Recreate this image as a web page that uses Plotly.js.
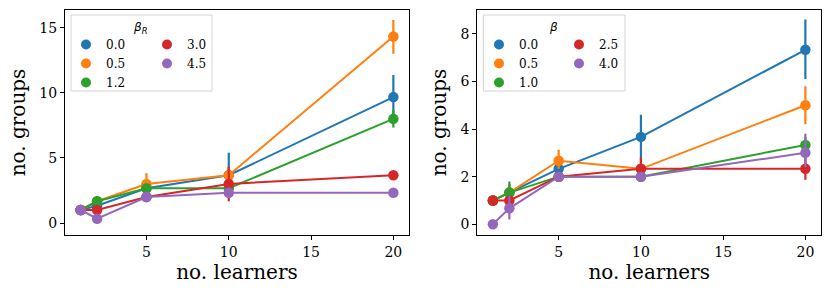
<!DOCTYPE html>
<html>
<head>
<meta charset="utf-8">
<script src="https://cdn.plot.ly/plotly-3.0.1.min.js"></script>
<style>html,body{margin:0;padding:0;background:#fff;}#chart{width:831px;height:295px;}</style>
</head>
<body>
<div id="chart"></div>
<script>
const learners = [1, 2, 5, 10, 20];
const colors = ['#1f77b4', '#ff7f0e', '#2ca02c', '#d62728', '#9467bd'];

// Left panel (beta_R)
const leftLabels = ['0.0', '0.5', '1.2', '3.0', '4.5'];
const leftMean = [
  [1, 1.33, 2.67, 3.67, 9.67],
  [1, 1.67, 3.0, 3.67, 14.33],
  [1, 1.67, 2.67, 2.67, 8.0],
  [1, 1.0, 2.0, 3.0, 3.67],
  [1, 0.33, 2.0, 2.33, 2.33]
];
const leftLo = [
  [1, 1.0, 2.33, 2.0, 8.0],
  [1, 1.33, 2.33, 3.0, 13.0],
  [1, 1.33, 2.33, 2.33, 7.33],
  [1, 0.67, 2.0, 1.67, 3.33],
  [1, 0.0, 2.0, 2.0, 2.0]
];
const leftHi = [
  [1, 1.67, 3.0, 5.4, 11.37],
  [1, 2.0, 3.83, 4.33, 15.6],
  [1, 2.0, 3.0, 3.0, 8.67],
  [1, 1.33, 2.0, 4.33, 4.0],
  [1, 0.67, 2.0, 2.67, 2.67]
];

// Right panel (beta)
const rightLabels = ['0.0', '0.5', '1.0', '2.5', '4.0'];
const rightMean = [
  [1, 1.33, 2.33, 3.67, 7.33],
  [1, 1.33, 2.67, 2.33, 5.0],
  [1, 1.33, 2.0, 2.0, 3.33],
  [1, 1.0, 2.0, 2.33, 2.33],
  [0, 0.67, 2.0, 2.0, 3.0]
];
const rightLo = [
  [1, 1.0, 2.0, 2.67, 6.1],
  [1, 1.0, 2.33, 2.0, 4.2],
  [1, 1.0, 2.0, 2.0, 3.0],
  [1, 1.0, 2.0, 2.0, 1.87],
  [0, 0.2, 2.0, 2.0, 2.4]
];
const rightHi = [
  [1, 1.67, 2.67, 4.6, 8.6],
  [1, 1.67, 3.13, 2.67, 5.8],
  [1, 1.8, 2.0, 2.0, 3.67],
  [1, 1.0, 2.0, 2.8, 2.8],
  [0, 1.2, 2.0, 2.0, 3.8]
];

const xTicks = [5, 10, 15, 20];
const leftYTicks = [0, 5, 10, 15];
const rightYTicks = [0, 2, 4, 6, 8];

const traces = [];
function addPanel(means, los, his, xa, ya) {
  means.forEach((m, i) => {
    traces.push({
      x: learners, y: m, xaxis: xa, yaxis: ya,
      mode: 'lines+markers', showlegend: false,
      line: {color: colors[i], width: 2},
      marker: {color: colors[i], size: 10.5},
      error_y: {
        type: 'data', symmetric: false,
        array: m.map((v, k) => his[i][k] - v),
        arrayminus: m.map((v, k) => v - los[i][k]),
        color: colors[i], thickness: 2.2, width: 0
      },
      hoverinfo: 'x+y'
    });
  });
}
addPanel(leftMean, leftLo, leftHi, 'x', 'y');
addPanel(rightMean, rightLo, rightHi, 'x2', 'y2');

// legend-only marker entries (two columns per panel)
function addLegend(labels, legendA, legendB) {
  labels.forEach((lab, i) => {
    traces.push({
      x: [null], y: [null], mode: 'markers', name: lab,
      marker: {color: colors[i], size: 10},
      legend: i < 3 ? legendA : legendB,
      showlegend: true, hoverinfo: 'skip'
    });
  });
}
addLegend(leftLabels, 'legend', 'legend2');
addLegend(rightLabels, 'legend3', 'legend4');

const W = 831, H = 295;
const px = v => v / W, py = v => 1 - v / H;
const serif = 'DejaVu Serif';
const legFont = {family: serif, size: 12, color: '#000'};
function legendAt(xp, yp) {
  return {x: px(xp), y: py(yp), xanchor: 'left', yanchor: 'top',
    bgcolor: 'rgba(0,0,0,0)', borderwidth: 0, font: legFont,
    tracegroupgap: 0, itemclick: false};
}
function axisX(domain, anchor) {
  return {domain: domain, anchor: anchor, range: [0.05, 20.95],
    tickvals: xTicks, ticktext: xTicks.map(String), ticks: 'outside', ticklen: 4,
    tickcolor: '#000', showline: true, mirror: true, linecolor: '#000', linewidth: 1,
    showgrid: false, zeroline: false,
    tickfont: {family: serif, size: 14, color: '#000'},
    title: {text: 'no. learners', font: {family: serif, size: 20, color: '#000'}, standoff: 6}};
}
function axisY(domain, anchor, range, ticks) {
  return {domain: domain, anchor: anchor, range: range,
    tickvals: ticks, ticktext: ticks.map(String), ticks: 'outside', ticklen: 4,
    tickcolor: '#000', showline: true, mirror: true, linecolor: '#000', linewidth: 1,
    showgrid: false, zeroline: false,
    tickfont: {family: serif, size: 14, color: '#000'},
    title: {text: 'no. groups', font: {family: serif, size: 20, color: '#000'}, standoff: 8}};
}
const yDom = [py(235), py(10)];
const layout = {
  width: W, height: H,
  margin: {l: 0, r: 0, t: 0, b: 0},
  paper_bgcolor: '#fff', plot_bgcolor: 'rgba(0,0,0,0)',
  xaxis: axisX([px(65), px(409)], 'y'),
  yaxis: axisY(yDom, 'x', [-0.92, 16.36], leftYTicks),
  xaxis2: axisX([px(477.3), px(821)], 'y2'),
  yaxis2: axisY(yDom, 'x2', [-0.45, 9.0], rightYTicks),
  legend: legendAt(66, 30),
  legend2: legendAt(147, 30),
  legend3: legendAt(479, 30),
  legend4: legendAt(559, 30),
  shapes: [
    {type: 'rect', xref: 'paper', yref: 'paper', x0: px(71), x1: px(212), y0: py(91), y1: py(15),
      line: {color: '#d4d4d4', width: 1}, fillcolor: 'rgba(255,255,255,0.8)', layer: 'above'},
    {type: 'rect', xref: 'paper', yref: 'paper', x0: px(483.3), x1: px(625), y0: py(91), y1: py(15),
      line: {color: '#d4d4d4', width: 1}, fillcolor: 'rgba(255,255,255,0.8)', layer: 'above'}
  ],
  annotations: [
    {xref: 'paper', yref: 'paper', x: px(140), y: py(28), xanchor: 'center', yanchor: 'middle', showarrow: false,
      text: '<i>β</i><sub><i>R</i></sub>', font: {family: 'DejaVu Sans', size: 12, color: '#000'}},
    {xref: 'paper', yref: 'paper', x: px(553), y: py(26.7), xanchor: 'center', yanchor: 'middle', showarrow: false,
      text: '<i>β</i>', font: {family: 'DejaVu Sans', size: 12, color: '#000'}}
  ],
  showlegend: true
};
Plotly.newPlot('chart', traces, layout, {staticPlot: true, displayModeBar: false});
</script>
</body>
</html>
